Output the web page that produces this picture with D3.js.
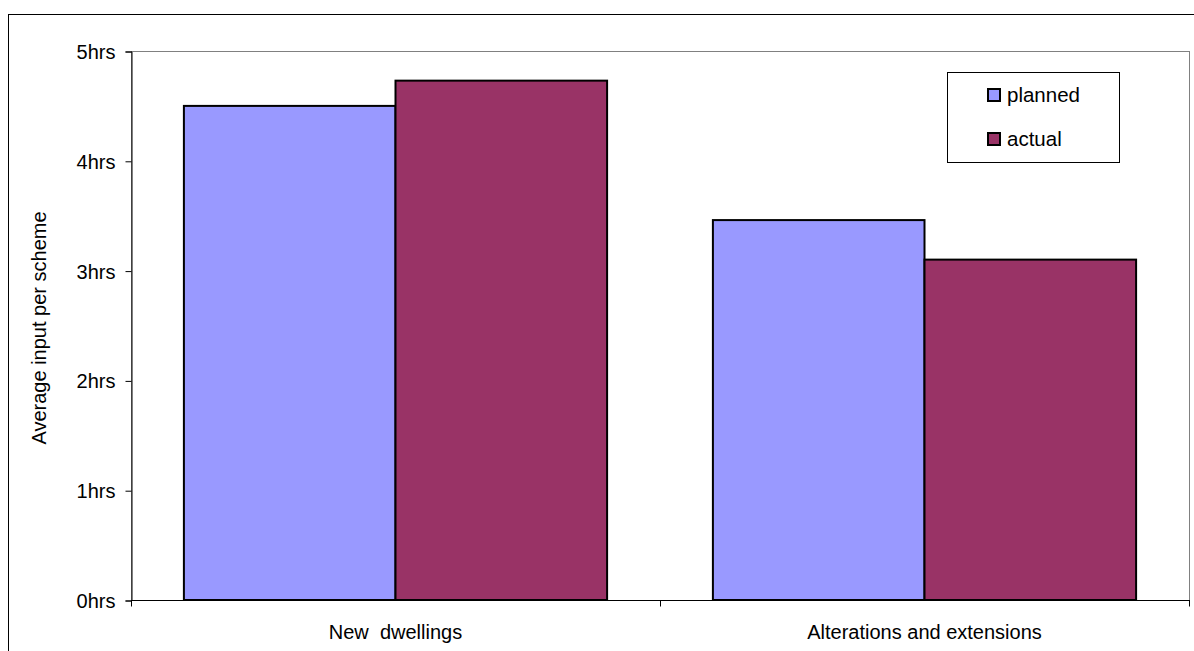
<!DOCTYPE html>
<html>
<head>
<meta charset="utf-8">
<script src="https://cdn.jsdelivr.net/npm/d3@7"></script>
<style>
  html, body { margin: 0; padding: 0; background: #fff; }
  svg { display: block; }
  text { font-family: "Liberation Sans", Arial, sans-serif; fill: #000; }
</style>
</head>
<body>
<svg id="chart" width="1194" height="651"></svg>
<script>
// Average input per scheme, in hours
const categories = ["New  dwellings", "Alterations and extensions"];
const seriesNames = ["planned", "actual"];
const planned = [4.5, 3.46];
const actual = [4.73, 3.1];
const yTicks = [0, 1, 2, 3, 4, 5];
const yTickLabels = ["0hrs", "1hrs", "2hrs", "3hrs", "4hrs", "5hrs"];
const colors = ["#9999FF", "#993366"];

const svg = d3.select("#chart");
const plot = { left: 131, right: 1189, top: 51, bottom: 600 };
const fontSize = 20;

// outer chart frame
svg.append("rect")
  .attr("x", 8.5).attr("y", 14.5)
  .attr("width", 1200).attr("height", 700)
  .attr("fill", "#fff").attr("stroke", "#000").attr("stroke-width", 1);

const x0 = d3.scaleBand().domain(categories).range([plot.left, plot.right]).paddingInner(0).paddingOuter(0);
const x1 = d3.scaleBand().domain(seriesNames).range([0, x0.bandwidth()]).paddingInner(0).paddingOuter(0.25);
const y = d3.scaleLinear().domain([0, 5]).range([plot.bottom, plot.top]);

// plot area border (grey)
svg.append("rect")
  .attr("x", plot.left + 0.5).attr("y", plot.top + 0.5)
  .attr("width", plot.right - plot.left).attr("height", plot.bottom - plot.top)
  .attr("fill", "#fff").attr("stroke", "#808080").attr("stroke-width", 1);

// bars
const rows = categories.map((c, i) => ({ cat: c, values: [planned[i], actual[i]] }));
const groups = svg.append("g").selectAll("g").data(rows).join("g")
  .attr("transform", d => `translate(${x0(d.cat)},0)`);
groups.selectAll("rect")
  .data(d => d.values.map((v, j) => ({ name: seriesNames[j], value: v, j })))
  .join("rect")
  .attr("x", d => x1(d.name))
  .attr("y", d => y(d.value))
  .attr("width", x1.bandwidth())
  .attr("height", d => y(0) - y(d.value))
  .attr("fill", d => colors[d.j])
  .attr("stroke", "#000").attr("stroke-width", 2);

// y axis
const yAxis = d3.axisLeft(y).tickValues(yTicks)
  .tickFormat((d, i) => yTickLabels[i]).tickSize(6).tickPadding(10);
const yg = svg.append("g").attr("transform", `translate(${plot.left + 0.5},0.5)`).call(yAxis);
yg.select(".domain").attr("stroke", "#000");
yg.selectAll(".tick line").attr("stroke", "#000");
yg.selectAll("text").attr("font-size", fontSize).attr("font-family", "Liberation Sans, Arial, sans-serif").attr("dy", "0.35em");

// x axis: ticks at category boundaries
const xg = svg.append("g").attr("transform", `translate(0,${plot.bottom + 0.5})`);
xg.append("line").attr("x1", plot.left).attr("x2", plot.right + 1).attr("stroke", "#000");
const bounds = [plot.left, x0(categories[1]), plot.right];
xg.selectAll(".bt").data(bounds).join("line")
  .attr("x1", d => d + 0.5).attr("x2", d => d + 0.5)
  .attr("y1", 0).attr("y2", 6).attr("stroke", "#000");
xg.selectAll(".cl").data(categories).join("text")
  .attr("x", d => x0(d) + x0.bandwidth() / 2)
  .attr("y", 38)
  .attr("text-anchor", "middle")
  .attr("font-size", fontSize)
  .style("white-space", "pre")
  .attr("xml:space", "preserve")
  .text(d => d);

// y axis title
svg.append("text")
  .attr("transform", "translate(46,328) rotate(-90)")
  .attr("text-anchor", "middle")
  .attr("font-size", fontSize)
  .text("Average input per scheme");

// legend
const lg = svg.append("g");
lg.append("rect").attr("x", 947.5).attr("y", 72.5).attr("width", 172).attr("height", 90)
  .attr("fill", "#fff").attr("stroke", "#000").attr("stroke-width", 1);
const items = lg.selectAll(".item").data(seriesNames).join("g")
  .attr("transform", (d, i) => `translate(988,${89 + i * 44})`);
items.append("rect").attr("width", 12).attr("height", 12)
  .attr("fill", (d, i) => colors[i]).attr("stroke", "#000").attr("stroke-width", 2);
items.append("text").attr("x", 19).attr("y", 13).attr("font-size", 20.5).text(d => d);
</script>
</body>
</html>
